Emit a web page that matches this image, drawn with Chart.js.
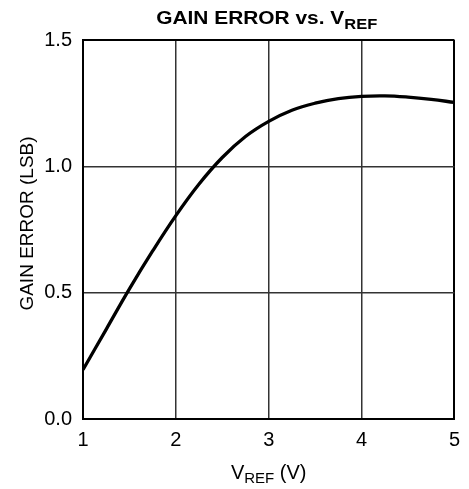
<!DOCTYPE html>
<html>
<head>
<meta charset="utf-8">
<script src="https://cdn.jsdelivr.net/npm/chart.js@4/dist/chart.umd.min.js"></script>
<style>
html,body{margin:0;padding:0;background:#fff;}
#wrap{width:469px;height:489px;}
</style>
</head>
<body>
<div id="wrap"><canvas id="c" width="469" height="489"></canvas></div>
<script>
// ---- data ----
const vref = [1, 1.25, 1.5, 1.75, 2, 2.25, 2.5, 2.75, 3, 3.25, 3.5, 3.75, 4, 4.25, 4.5, 4.75, 5];
const gainError = [0.195, 0.355, 0.515, 0.665, 0.805, 0.93, 1.035, 1.118, 1.178, 1.222, 1.25, 1.268, 1.277, 1.279, 1.274, 1.265, 1.253];
const xTicks = [1, 2, 3, 4, 5];
const yTicks = [0, 0.5, 1.0, 1.5];
const titleMain = 'GAIN ERROR vs. V';
const titleSub = 'REF';
const xTitleMain = 'V';
const xTitleSub = 'REF';
const xTitleUnit = ' (V)';
const yTitleText = 'GAIN ERROR (LSB)';

const FONT = '"Liberation Sans", Arial, Helvetica, sans-serif';

const titlesPlugin = {
  id: 'titles',
  afterDraw(chart) {
    const ctx = chart.ctx;
    const ca = chart.chartArea;
    const cx = (ca.left + ca.right) / 2;
    ctx.save();
    ctx.fillStyle = '#000';
    ctx.textBaseline = 'alphabetic';
    ctx.textAlign = 'left';
    // main title with subscript
    const sx = 1.1;
    ctx.font = 'bold 19px ' + FONT;
    const w1 = ctx.measureText(titleMain).width * sx;
    ctx.font = 'bold 15px ' + FONT;
    const w2 = ctx.measureText(titleSub).width * sx;
    let x0 = cx - 2 - (w1 + w2) / 2;
    ctx.save();
    ctx.translate(x0, 24);
    ctx.scale(sx, 1);
    ctx.font = 'bold 19px ' + FONT;
    ctx.fillText(titleMain, 0, 0);
    ctx.restore();
    ctx.save();
    ctx.translate(x0 + w1, 28.5);
    ctx.scale(sx, 1);
    ctx.font = 'bold 15px ' + FONT;
    ctx.fillText(titleSub, 0, 0);
    ctx.restore();

    // x axis title
    ctx.font = '20px ' + FONT;
    const a = ctx.measureText(xTitleMain).width;
    const c = ctx.measureText(xTitleUnit).width;
    ctx.font = '15px ' + FONT;
    const b = ctx.measureText(xTitleSub).width;
    let xs = cx - (a + b + c) / 2;
    ctx.font = '20px ' + FONT;
    ctx.fillText(xTitleMain, xs, 478.5);
    ctx.font = '15px ' + FONT;
    ctx.fillText(xTitleSub, xs + a, 483);
    ctx.font = '20px ' + FONT;
    ctx.fillText(xTitleUnit, xs + a + b, 478.5);

    // y axis title
    ctx.save();
    ctx.translate(33, (ca.top + ca.bottom) / 2 - 6);
    ctx.rotate(-Math.PI / 2);
    ctx.textAlign = 'center';
    ctx.font = '19px ' + FONT;
    ctx.fillText(yTitleText, 0, 0);
    ctx.restore();
    ctx.restore();
  }
};

const edgeColor = (v, lo, hi) => (v === lo || v === hi) ? '#000' : '#333';
const edgeWidth = (v, lo, hi) => (v === lo || v === hi) ? 2 : 1.5;

new Chart(document.getElementById('c'), {
  type: 'line',
  data: {
    datasets: [{
      data: vref.map((x, i) => ({ x: x, y: gainError[i] })),
      borderColor: '#000',
      borderWidth: 3.3,
      pointRadius: 0,
      tension: 0.4,
      fill: false
    }]
  },
  options: {
    responsive: false,
    animation: false,
    devicePixelRatio: 1,
    layout: { padding: { left: 0, right: 8, top: 40, bottom: 0 } },
    plugins: { legend: { display: false }, tooltip: { enabled: false }, title: { display: false } },
    scales: {
      x: {
        type: 'linear',
        min: 1, max: 5,
        afterFit(s) { s.height = 70; },
        afterBuildTicks(s) { s.ticks = xTicks.map(v => ({ value: v })); },
        ticks: {
          color: '#000',
          font: { family: FONT, size: 20 },
          padding: 9,
          maxRotation: 0,
          callback: v => String(v)
        },
        grid: {
          drawTicks: false,
          color: c => edgeColor(c.tick && c.tick.value, 1, 5),
          lineWidth: c => edgeWidth(c.tick && c.tick.value, 1, 5)
        },
        border: { display: true, color: '#000', width: 2 }
      },
      y: {
        min: 0, max: 1.5,
        afterFit(s) { s.width = 83; },
        afterBuildTicks(s) { s.ticks = yTicks.map(v => ({ value: v })); },
        ticks: {
          color: '#000',
          font: { family: FONT, size: 20 },
          padding: 11,
          callback: v => Number(v).toFixed(1)
        },
        grid: {
          drawTicks: false,
          color: c => edgeColor(c.tick && c.tick.value, 0, 1.5),
          lineWidth: c => edgeWidth(c.tick && c.tick.value, 0, 1.5)
        },
        border: { display: true, color: '#000', width: 2 }
      }
    }
  },
  plugins: [titlesPlugin]
});
</script>
</body>
</html>
